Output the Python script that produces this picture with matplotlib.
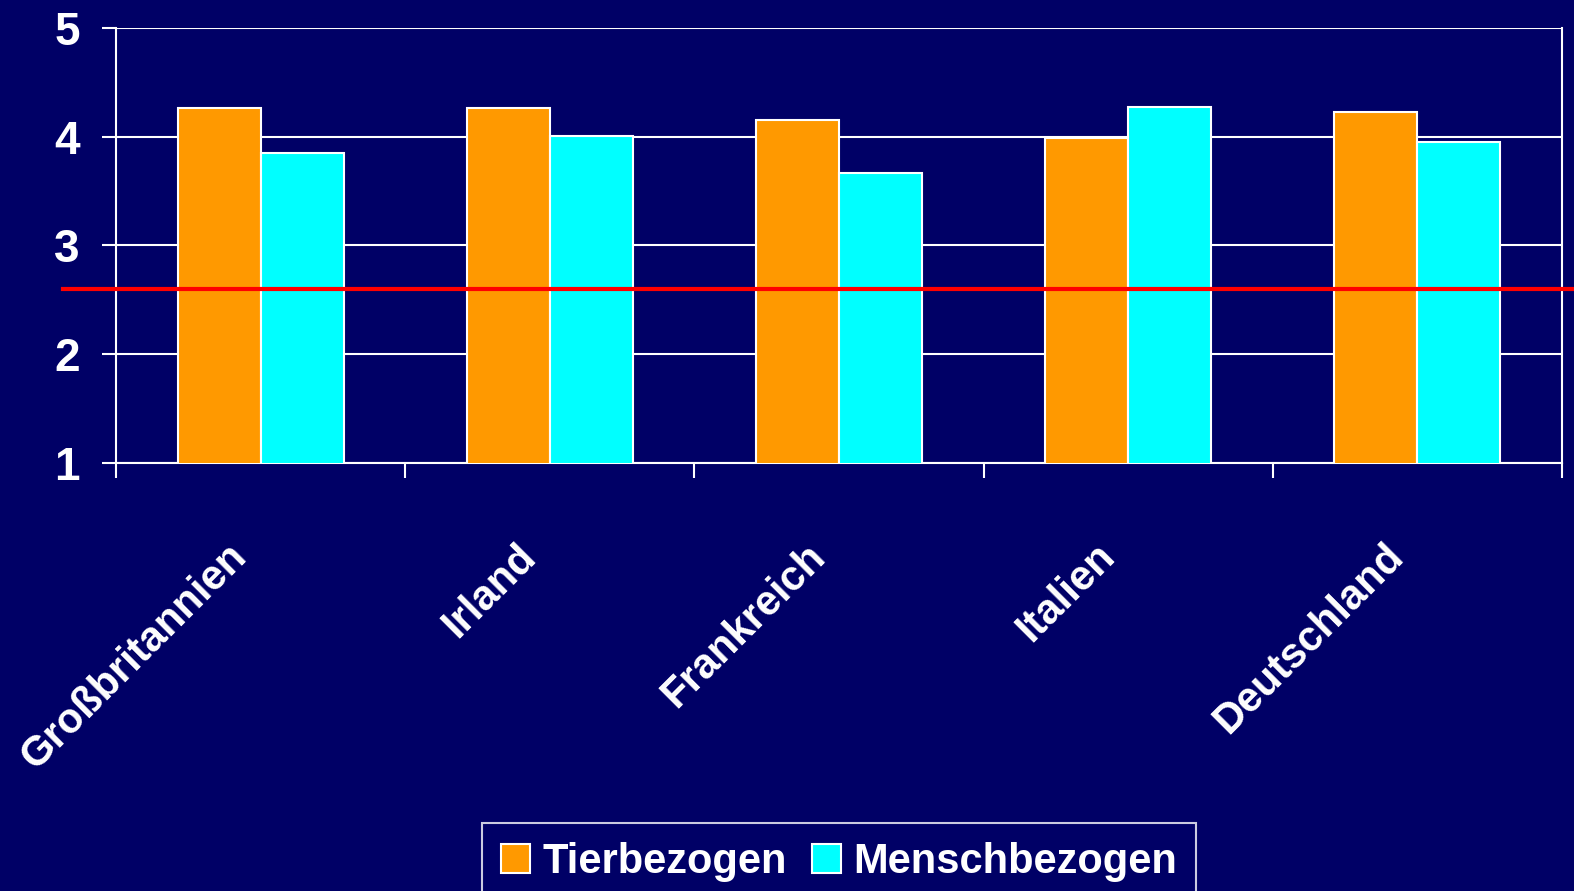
import numpy as np
import matplotlib.pyplot as plt
from matplotlib.patches import Patch
from matplotlib.transforms import ScaledTranslation

laender = ['Großbritannien', 'Irland', 'Frankreich', 'Italien', 'Deutschland']
tierbezogen = [4.26, 4.26, 4.15, 3.99, 4.23]
menschbezogen = [3.85, 4.01, 3.67, 4.27, 3.95]
grenzwert = 2.6
yticks = [1, 2, 3, 4, 5]

navy = '#000066'
orange = '#FF9900'
cyan = '#00FFFF'

plt.rcParams['font.family'] = ['Liberation Sans', 'DejaVu Sans']

fig = plt.figure(figsize=(15.74, 8.91), dpi=100, facecolor=navy)
ax = fig.add_axes([0.0737, 0.4804, 0.9187, 0.4882])
ax.set_facecolor(navy)

x = np.arange(len(laender))
w = 0.287
ax.bar(x - w/2, tierbezogen, w, color=orange, edgecolor='white', linewidth=1.5, zorder=3)
ax.bar(x + w/2, menschbezogen, w, color=cyan, edgecolor='white', linewidth=1.5, zorder=3)

ax.set_xlim(-0.5, len(laender) - 0.5)
ax.set_ylim(1, 5)
ax.set_yticks(yticks)
ax.set_yticklabels([str(v) for v in yticks], fontsize=33, fontweight='bold', color='white')
ax.tick_params(axis='y', length=10, width=1.5, color='white', pad=16)

ax.set_xticks(x)
ax.set_xticklabels(laender, rotation=45, ha='right', va='center', rotation_mode='anchor',
                   fontsize=30, fontweight='bold', color='white')
ax.tick_params(axis='x', which='major', length=0, pad=63)
ax.set_xticks(np.arange(-0.5, len(laender)), minor=True)
ax.tick_params(axis='x', which='minor', length=11, width=1.5, color='white')
shift = ScaledTranslation(-0.2, 0, fig.dpi_scale_trans)
for lbl in ax.get_xticklabels():
    lbl.set_transform(lbl.get_transform() + shift)

ax.grid(axis='y', color='white', linewidth=1.5, zorder=1)
for s in ['left', 'bottom', 'right']:
    ax.spines[s].set_color('white')
    ax.spines[s].set_linewidth(1.5)
ax.spines['top'].set_visible(False)
ax.spines['right'].set_zorder(0)

ax.axhline(grenzwert, xmin=-0.037, xmax=1.01, color='red', linewidth=3, clip_on=False, zorder=4)

handles = [Patch(facecolor=orange, edgecolor='white', linewidth=1.5),
           Patch(facecolor=cyan, edgecolor='white', linewidth=1.5)]
leg = fig.legend(handles, ['Tierbezogen', 'Menschbezogen'], loc='upper center',
                 bbox_to_anchor=(0.533, 0.0763), ncol=2, frameon=True, fancybox=False,
                 facecolor=navy, edgecolor='white', handlelength=0.7, handleheight=0.7,
                 handletextpad=0.3, columnspacing=0.6, borderpad=0.45, borderaxespad=0,
                 prop={'weight': 'bold', 'size': 30})
leg.get_frame().set_linewidth(1.5)
for t in leg.get_texts():
    t.set_color('white')

fig.savefig('out.png', dpi=100, facecolor=navy)
